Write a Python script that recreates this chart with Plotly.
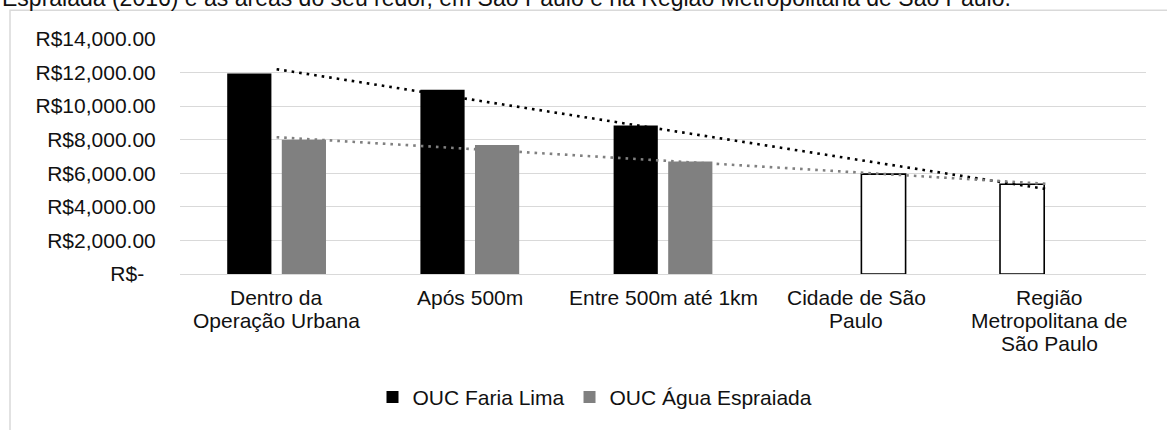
import plotly.graph_objects as go

categories = ["Dentro da<br>Operação Urbana", "Após 500m", "Entre 500m até 1km",
              "Cidade de São<br>Paulo", "Região<br>Metropolitana de<br>São Paulo"]
faria_lima = [11950, 10980, 8850, None, 5350]
agua_espraiada = [8000, 7680, 6700, 5950, None]
faria_colors = ["#000000", "#000000", "#000000", "#ffffff", "#ffffff"]
agua_colors = ["#808080", "#808080", "#808080", "#ffffff", "#ffffff"]
faria_line_w = [0, 0, 0, 0, 1.6]
agua_line_w = [0, 0, 0, 1.6, 0]
# trendline values read at first and last category
trend_cats = [categories[0], categories[-1]]
trend_faria = [12200, 5030]
trend_agua = [8150, 5360]
y_ticks = [0, 2000, 4000, 6000, 8000, 10000, 12000, 14000]
y_tick_text = ["R$-\u00a0\u00a0", "R$2,000.00", "R$4,000.00", "R$6,000.00", "R$8,000.00",
               "R$10,000.00", "R$12,000.00", "R$14,000.00"]
title_text = "Espraiada (2016) e as áreas do seu redor, em São Paulo e na Região Metropolitana de São Paulo."

FONT = "Liberation Sans, Arial, sans-serif"
TXT = "#111111"
FS = 21

fig = go.Figure()
fig.add_trace(go.Bar(
    x=categories, y=faria_lima, name="OUC Faria Lima",
    marker=dict(color=faria_colors, line=dict(color="#000000", width=faria_line_w)),
))
fig.add_trace(go.Bar(
    x=categories, y=agua_espraiada, name="OUC Água Espraiada",
    marker=dict(color=agua_colors, line=dict(color="#000000", width=agua_line_w)),
))
fig.add_trace(go.Scatter(
    x=trend_cats, y=trend_faria, mode="lines", showlegend=False,
    line=dict(color="#000000", width=2.6, dash="2.6px,5px"), hoverinfo="skip",
))
fig.add_trace(go.Scatter(
    x=trend_cats, y=trend_agua, mode="lines", showlegend=False,
    line=dict(color="#808080", width=2.6, dash="2.6px,5px"), hoverinfo="skip",
))

L, R, T, B = 180, 21, 39, 153
W, H = 1167, 430
pw, ph = W - L - R, H - T - B

def px(x):
    return (x - L) / pw

def py(y):
    return (H - B - y) / ph

annotations = [dict(text=title_text, xref="paper", yref="paper", x=px(0), y=py(13),
                    xanchor="left", yanchor="bottom", showarrow=False,
                    font=dict(size=23, color=TXT))]
for cat in categories:
    for i, line in enumerate(cat.split("<br>")):
        annotations.append(dict(text=line, x=cat, xref="x", yref="paper", y=py(301 + 23 * i),
                                xanchor="center", yanchor="middle", showarrow=False,
                                font=dict(size=FS, color=TXT)))

fig.update_layout(
    width=W, height=H,
    margin=dict(l=L, r=R, t=T, b=B),
    paper_bgcolor="white", plot_bgcolor="white",
    font=dict(family=FONT, size=FS, color=TXT),
    barmode="group", bargap=0.435, bargroupgap=0.19,
    showlegend=True,
    legend=dict(orientation="h", x=px(595), xanchor="center", y=py(402), yanchor="middle",
                font=dict(size=FS, color=TXT), itemwidth=30, bgcolor="rgba(0,0,0,0)"),
    xaxis=dict(showgrid=False, showline=True, linecolor="#d9d9d9", linewidth=1.3,
               ticks="", showticklabels=False, automargin=False),
    yaxis=dict(range=[0, 14000], tickvals=y_ticks, ticktext=y_tick_text,
               showgrid=True, gridcolor="#d9d9d9", gridwidth=1.3,
               zeroline=True, zerolinecolor="#d9d9d9", zerolinewidth=1.3,
               showline=False, ticks="outside", ticklen=19, tickcolor="rgba(0,0,0,0)",
               tickfont=dict(size=FS, color=TXT), automargin=False),
    shapes=[dict(type="rect", xref="paper", yref="paper",
                 x0=px(10), x1=px(1180), y0=py(10), y1=py(445),
                 line=dict(color="#d9d9d9", width=1.5), fillcolor="rgba(0,0,0,0)", layer="below")],
    annotations=annotations,
)

fig.write_html("out.html", config={"displayModeBar": False},
               post_script="document.body.style.margin='0';document.body.style.overflow='hidden';")
